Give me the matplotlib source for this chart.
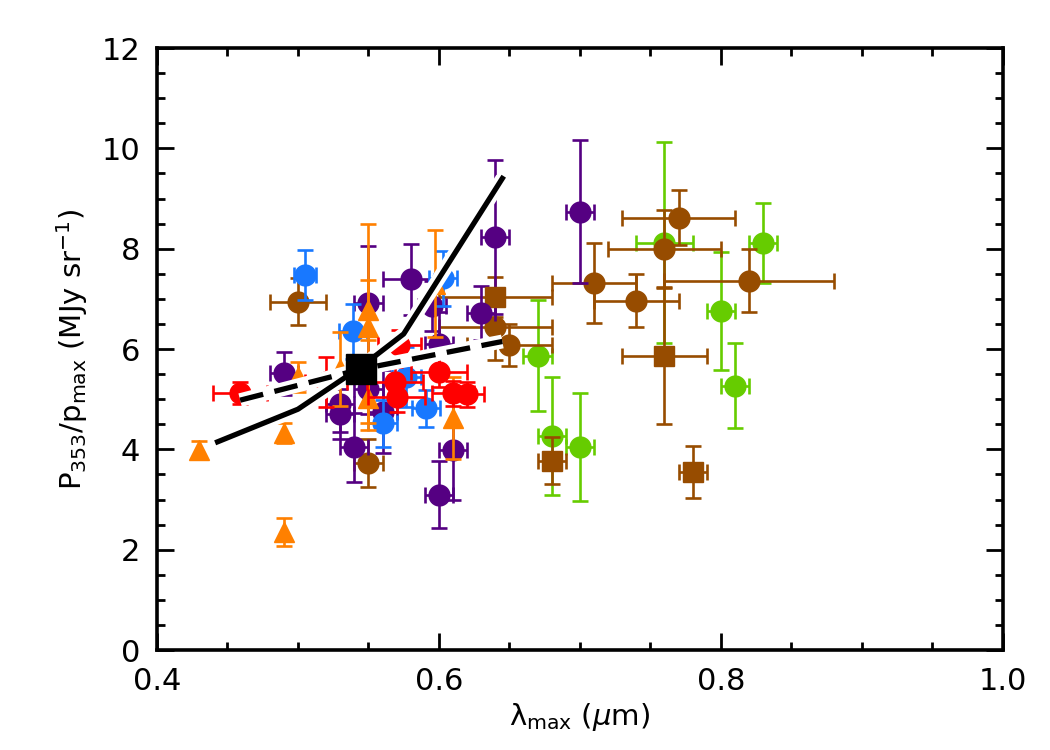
import matplotlib
matplotlib.use("Agg")
import matplotlib.pyplot as plt
from matplotlib.ticker import MultipleLocator

plt.rcParams['font.family'] = ['DejaVu Sans']
plt.rcParams['mathtext.fontset'] = 'dejavusans'

# green circles
green_x = [0.76, 0.83, 0.80, 0.81, 0.67, 0.68, 0.70]
green_y = [8.12, 8.12, 6.76, 5.27, 5.87, 4.27, 4.05]
green_xerr = [0.02, 0.01, 0.01, 0.01, 0.01, 0.01, 0.01]
green_yerr = [2.0, 0.8, 1.18, 0.85, 1.1, 1.18, 1.07]

# brown circles
brown_x = [0.50, 0.55, 0.64, 0.65, 0.77, 0.76, 0.82, 0.74, 0.71]
brown_y = [6.94, 3.72, 6.43, 6.08, 8.62, 7.99, 7.36, 6.96, 7.32]
brown_xerr = [0.02, 0.01, 0.04, 0.03, 0.04, 0.04, 0.06, 0.03, 0.03]
brown_yerr = [0.47, 0.48, 0.65, 0.42, 0.54, 0.78, 0.63, 0.53, 0.8]

# brown squares
brsq_x = [0.64, 0.68, 0.76, 0.78]
brsq_y = [7.04, 3.77, 5.87, 3.55]
brsq_xerr = [0.04, 0.01, 0.03, 0.01]
brsq_yerr = [0.4, 0.47, 1.37, 0.52]

# purple circles
purple_x = [0.49, 0.55, 0.58, 0.64, 0.70, 0.63, 0.60, 0.61, 0.60, 0.53, 0.53, 0.54, 0.56, 0.55, 0.595]
purple_y = [5.52, 6.91, 7.39, 8.23, 8.74, 6.72, 6.09, 3.99, 3.10, 4.9, 4.7, 4.04, 4.75, 5.2, 6.85]
purple_xerr = [0.01, 0.01, 0.02, 0.01, 0.01, 0.01, 0.01, 0.01, 0.01, 0.01, 0.01, 0.01, 0.01, 0.01, 0.01]
purple_yerr = [0.43, 1.15, 0.71, 1.54, 1.43, 0.54, 0.65, 1.0, 0.66, 0.55, 0.5, 0.69, 0.83, 0.5, 0.5]

# blue circles
blue_x = [0.505, 0.539, 0.56, 0.577, 0.591, 0.603]
blue_y = [7.47, 6.35, 4.52, 5.45, 4.82, 7.41]
blue_xerr = [0.008, 0.01, 0.01, 0.01, 0.01, 0.01]
blue_yerr = [0.5, 0.55, 0.47, 0.6, 0.37, 0.55]

# orange triangles
orange_x = [0.43, 0.49, 0.49, 0.50, 0.55, 0.55, 0.55, 0.61, 0.597, 0.53]
orange_y = [3.99, 4.33, 2.36, 5.45, 6.78, 6.44, 5.02, 4.62, 7.3, 5.6]
orange_yerr = [0.18, 0.2, 0.28, 0.3, 0.6, 2.06, 0.5, 0.82, 1.07, 0.74]

# red circles
red_x = [0.459, 0.52, 0.572, 0.569, 0.57, 0.60, 0.61, 0.62]
red_y = [5.12, 5.35, 6.08, 5.35, 5.05, 5.55, 5.12, 5.10]
red_xerr = [0.019, 0.015, 0.015, 0.02, 0.02, 0.02, 0.015, 0.012]
red_yerr = [0.22, 0.5, 0.3, 0.3, 0.3, 0.3, 0.25, 0.25]

# model curves
solid_x = [0.443, 0.50, 0.545, 0.575, 0.645]
solid_y = [4.15, 4.8, 5.65, 6.3, 9.4]
dash_x = [0.459, 0.545, 0.645]
dash_y = [4.98, 5.6, 6.15]
mean_x = [0.545]
mean_y = [5.6]

fig = plt.figure(figsize=(10.5, 7.5), dpi=100)
ax = fig.add_axes([0.1495, 0.1333, 0.8055, 0.8027])

groups = [
    (green_x, green_y, green_xerr, green_yerr, 'o', '#66cc00', 15),
    (brown_x, brown_y, brown_xerr, brown_yerr, 'o', '#974c00', 15),
    (brsq_x, brsq_y, brsq_xerr, brsq_yerr, 's', '#974c00', 14),
    (purple_x, purple_y, purple_xerr, purple_yerr, 'o', '#550082', 15),
    (blue_x, blue_y, blue_xerr, blue_yerr, 'o', '#1878ff', 15),
    (orange_x, orange_y, None, orange_yerr, '^', '#ff8000', 14),
    (red_x, red_y, red_xerr, red_yerr, 'o', '#ff0000', 15),
]
for i, (gx, gy, gxe, gye, mk, col, ms) in enumerate(groups):
    ax.errorbar(gx, gy, xerr=gxe, yerr=gye, fmt=mk, color=col, mec=col,
                markersize=ms, elinewidth=1.9, capsize=6, capthick=1.9,
                zorder=2 + i * 0.1)

# white halo under the model lines
ax.plot(solid_x, solid_y, color='white', lw=10, solid_capstyle='butt', zorder=4)
ax.plot(dash_x, dash_y, color='white', lw=10, solid_capstyle='butt', zorder=4)
ax.plot(solid_x, solid_y, color='black', lw=3.8, zorder=5)
ax.plot(dash_x, dash_y, color='black', lw=3.8, linestyle=(0, (4.5, 2.2)), zorder=5)
ax.plot(mean_x, mean_y, marker='s', color='black', markersize=22, linestyle='none', zorder=6)

ax.set_xlim(0.4, 1.0)
ax.set_ylim(0, 12)
ax.xaxis.set_minor_locator(MultipleLocator(0.05))
ax.yaxis.set_major_locator(MultipleLocator(2))
ax.yaxis.set_minor_locator(MultipleLocator(0.5))
ax.set_xticks([0.4, 0.6, 0.8, 1.0])
ax.set_xticklabels(['0.4', '0.6', '0.8', '1.0'])

ax.tick_params(which='both', direction='in', top=True, right=True, width=2,
               labelsize=22)
ax.tick_params(which='major', length=12, pad=12)
ax.tick_params(which='minor', length=6)
for s in ax.spines.values():
    s.set_linewidth(2.6)

ax.set_xlabel(r'λ$_{\rm max}$ ($\mu$m)', fontsize=21, labelpad=4)
ax.set_ylabel(r'P$_{353}$/p$_{\rm max}$ (MJy sr$^{-1}$)', fontsize=21, labelpad=8)

fig.savefig('out.png', dpi=100)
